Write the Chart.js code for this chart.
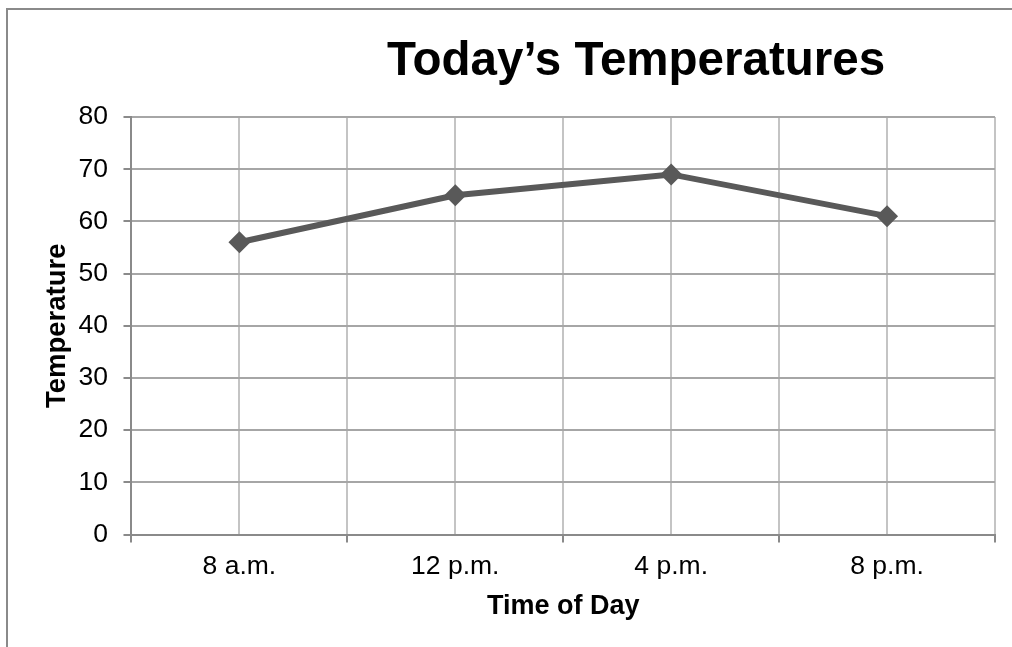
<!DOCTYPE html>
<html>
<head>
<meta charset="utf-8">
<title>Today’s Temperatures</title>
<script src="https://cdn.jsdelivr.net/npm/chart.js@4"></script>
<style>
  html, body { margin: 0; padding: 0; background: #fff; overflow: hidden; }
  #frame {
    position: absolute; left: 6px; top: 8px; width: 1100px; height: 760px;
    border: 2px solid #8a8a8a; box-sizing: border-box;
  }
  #wrap { position: absolute; left: 0; top: 0; width: 1012px; height: 647px; }
</style>
</head>
<body>
<div id="frame"></div>
<div id="wrap"><canvas id="chart" width="1012" height="647"></canvas></div>
<script>
// Temperatures recorded through the day
const chartTitle = 'Today’s Temperatures';
const times = ['8 a.m.', '12 p.m.', '4 p.m.', '8 p.m.'];
const temperatures = [56, 65, 69, 61];
const yTicks = [0, 10, 20, 30, 40, 50, 60, 70, 80];

const FONT = '"Liberation Sans", Arial, Helvetica, sans-serif';

// Title drawn above the plot, slightly right of centre
const titlePlugin = {
  id: 'offsetTitle',
  afterDraw(chart) {
    const { ctx } = chart;
    ctx.save();
    ctx.font = 'bold 47.5px ' + FONT;
    ctx.fillStyle = '#000';
    ctx.textAlign = 'center';
    ctx.textBaseline = 'alphabetic';
    ctx.fillText(chartTitle, chart.width * 0.6285, 75);
    ctx.restore();
  }
};

new Chart(document.getElementById('chart'), {
  type: 'line',
  data: {
    labels: times,
    datasets: [{
      label: 'Temperature',
      data: temperatures,
      borderColor: '#595959',
      borderWidth: 6,
      tension: 0,
      pointStyle: 'rectRot',
      pointRadius: 11,
      pointBackgroundColor: '#595959',
      pointBorderWidth: 0,
      xAxisID: 'x'
    }]
  },
  options: {
    responsive: false,
    devicePixelRatio: 1,
    animation: false,
    layout: { padding: { left: 36.5, right: 17, top: 117, bottom: 19.8 } },
    plugins: {
      legend: { display: false },
      tooltip: { enabled: false },
      title: { display: false }
    },
    scales: {
      x: {
        type: 'category',
        position: 'bottom',
        offset: true,
        weight: 1,
        grid: {
          offset: true,
          color: '#c4c4c4',
          lineWidth: 2,
          tickColor: '#8a8a8a',
          tickLength: 8
        },
        border: { color: '#8a8a8a', width: 2 },
        ticks: { color: '#000', padding: 8.6, font: { family: FONT, size: 26.5 } },
        title: {
          display: true,
          text: 'Time of Day',
          color: '#000',
          font: { family: FONT, size: 27, weight: 'bold' },
          padding: { top: -0.7, bottom: 4 }
        }
      },
      xCenters: {
        type: 'category',
        position: 'bottom',
        offset: true,
        weight: 0,
        grid: { offset: false, color: '#c4c4c4', lineWidth: 2, drawTicks: false },
        border: { display: false },
        ticks: { display: false }
      },
      y: {
        min: 0,
        max: 80,
        afterBuildTicks(scale) { scale.ticks = yTicks.map(v => ({ value: v })); },
        grid: { color: '#a6a6a6', lineWidth: 2, tickColor: '#8a8a8a', tickLength: 8 },
        border: { color: '#8a8a8a', width: 2 },
        ticks: { color: '#000', padding: 15.5, font: { family: FONT, size: 26.5 } },
        title: {
          display: true,
          text: 'Temperature',
          color: '#000',
          font: { family: FONT, size: 27.5, weight: 'bold' },
          padding: { top: 4, bottom: -10.5 }
        }
      }
    }
  },
  plugins: [titlePlugin]
});
</script>
</body>
</html>
